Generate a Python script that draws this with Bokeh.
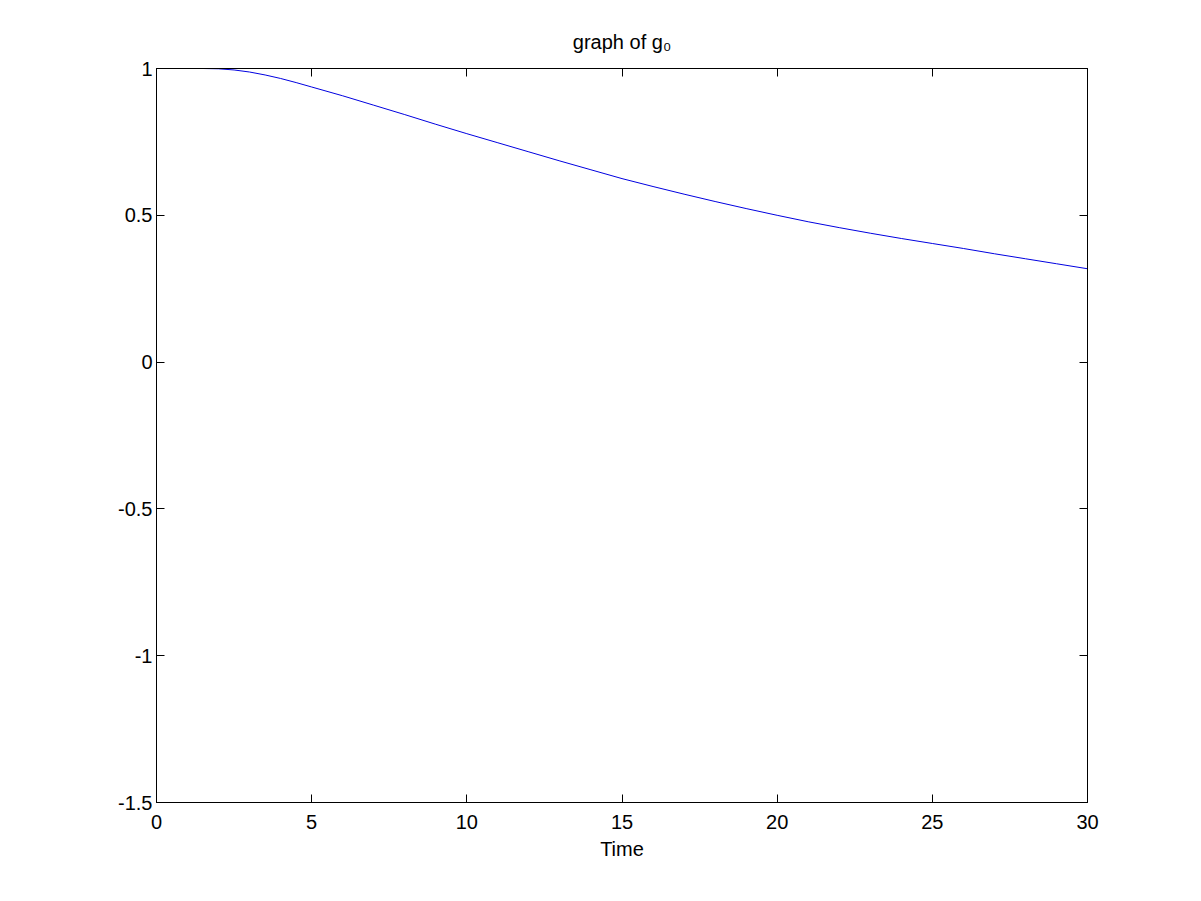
from bokeh.plotting import figure
from bokeh.models import Range1d, LinearAxis, FixedTicker, Title, CustomJSTickFormatter
from bokeh.embed import file_html
from bokeh.resources import INLINE

# data
time = [1.5, 2, 2.5, 3, 3.5, 4, 4.5, 5, 6, 7, 8, 9, 10, 11, 12, 13, 14, 15, 16, 17,
        18, 19, 20, 21, 22, 23, 24, 25, 26, 27, 28, 29, 30]
g0 = [1.000, 0.999, 0.995, 0.988, 0.978, 0.966, 0.952, 0.937, 0.907, 0.875,
      0.843, 0.810, 0.778, 0.747, 0.716, 0.685, 0.655, 0.625, 0.598, 0.572,
      0.547, 0.523, 0.500, 0.478, 0.458, 0.439, 0.421, 0.404, 0.387, 0.369,
      0.352, 0.335, 0.318]

x_ticks = [0, 5, 10, 15, 20, 25, 30]
x_tick_labels = ["0", "5", "10", "15", "20", "25", "30"]
y_ticks = [-1.5, -1, -0.5, 0, 0.5, 1]
y_tick_labels = ["-1.5", "-1", "-0.5", "0", "0.5", "1"]
title_text = "graph of g\u2080"
x_label = "Time"

FONT = "Liberation Sans"
FS = "20px"

p = figure(width=1185, height=885, output_backend="svg", toolbar_location=None,
           x_range=Range1d(0, 30), y_range=Range1d(-1.5, 1),
           min_border_left=156, min_border_top=68, min_border_right=98,
           min_border_bottom=83, title_location=None)
p.background_fill_color = "white"
p.border_fill_color = "white"
p.outline_line_color = "black"
p.outline_line_width = 1
p.xgrid.visible = False
p.ygrid.visible = False

p.line(time, g0, line_color="#0000e0", line_width=1)


def style(ax, ticks, labels, show_labels):
    ax.ticker = FixedTicker(ticks=ticks)
    if show_labels:
        ax.major_label_overrides = {t: l for t, l in zip(ticks, labels)}
    else:
        ax.formatter = CustomJSTickFormatter(code="return ''")
        ax.major_label_standoff = 0
    ax.major_tick_in = 8
    ax.major_tick_out = 0
    ax.minor_tick_in = 0
    ax.minor_tick_out = 0
    ax.axis_line_color = "black"
    ax.major_tick_line_color = "black"
    ax.major_label_text_font = FONT
    ax.major_label_text_font_size = FS
    ax.major_label_text_color = "black"


style(p.xaxis[0], x_ticks, x_tick_labels, True)
style(p.yaxis[0], y_ticks, y_tick_labels, True)
p.xaxis[0].major_label_standoff = 12
p.yaxis[0].major_label_standoff = 4
p.xaxis[0].axis_label = x_label
p.xaxis[0].axis_label_text_font = FONT
p.xaxis[0].axis_label_text_font_size = FS
p.xaxis[0].axis_label_text_font_style = "normal"
p.xaxis[0].axis_label_text_color = "black"
p.xaxis[0].axis_label_standoff = 6

top = LinearAxis()
style(top, x_ticks, x_tick_labels, False)
p.add_layout(top, "above")
right = LinearAxis()
style(right, y_ticks, y_tick_labels, False)
p.add_layout(right, "right")

p.add_layout(Title(text=title_text, align="center", text_font=FONT, text_font_size=FS,
                   text_font_style="normal", text_color="black", standoff=31), "above")

open("out.html", "w").write(file_html(p, INLINE))
